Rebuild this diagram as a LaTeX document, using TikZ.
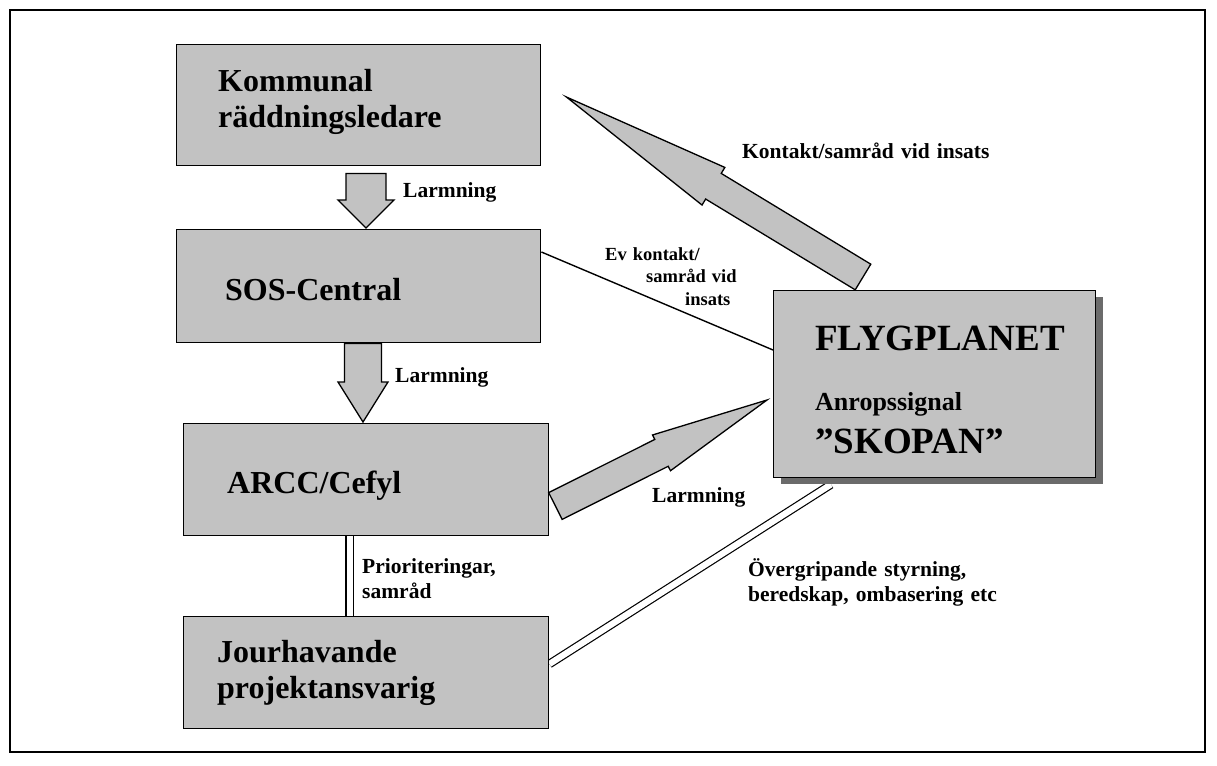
\documentclass[tikz,border=0pt]{standalone}
\usepackage{fontspec}
\setmainfont{Liberation Serif}
\usetikzlibrary{calc,backgrounds}
\definecolor{boxgray}{gray}{0.76}
\definecolor{shadowgray}{gray}{0.42}
% block arrow: #1 tail, #2 tip, #3 shaft half width, #4 head half width, #5 head length
\newcommand{\mybarrow}[5]{%
  \path ($(#2)!#5!(#1)$) coordinate (bxn);
  \draw[barrow] ($(#1)!#3!90:(#2)$) -- ($(bxn)!#3!90:(#2)$) -- ($(bxn)!#4!90:(#2)$) -- (#2)
    -- ($(bxn)!#4!-90:(#2)$) -- ($(bxn)!#3!-90:(#2)$) -- ($(#1)!#3!-90:(#2)$) -- cycle;
}
\begin{document}
\begin{tikzpicture}[x=1pt,y=-1pt,
  box/.style={draw=black, line width=1.4pt, fill=boxgray, inner sep=0pt, anchor=north west},
  shadowbox/.style={fill=shadowgray, inner sep=0pt, anchor=north west},
  bigtxt/.style={font=\bfseries\fontsize{32}{36}\selectfont, inner sep=0pt, anchor=base west, text width=360pt, align=left},
  flytxt/.style={font=\bfseries\fontsize{37}{40}\selectfont, inner sep=0pt, anchor=base west, text width=300pt, align=left},
  anrtxt/.style={font=\bfseries\fontsize{26}{30}\selectfont, inner sep=0pt, anchor=base west, text width=300pt, align=left},
  lbl/.style={font=\bfseries\fontsize{21.5}{25}\selectfont, inner sep=0pt, anchor=base west, text width=320pt, align=left},
  smalllbl/.style={font=\bfseries\fontsize{18.5}{22.5}\selectfont, inner sep=0pt, anchor=base west, text width=200pt, align=left},
  barrow/.style={draw=black, line width=1.3pt, fill=boxgray, line join=miter},
  thinline/.style={draw=black, line width=1.4pt},
  dbl/.style={draw=black, double=white, line width=1.2pt, double distance=6.2pt},
  frame/.style={draw=black, line width=2pt}
]
\useasboundingbox (0,0) rectangle (1217,765);

% boxes
\node[box, minimum width=364pt, minimum height=121pt] (kom) at (176,44) {};
\node[box, minimum width=364pt, minimum height=113pt] (sos) at (176,229) {};
\node[box, minimum width=365pt, minimum height=112pt] (arc) at (183,423) {};
\node[box, minimum width=365pt, minimum height=112pt] (jour) at (183,616) {};
\node[shadowbox, minimum width=322pt, minimum height=187pt] (flyshadow) at (781,297) {};
\node[box, minimum width=322pt, minimum height=187pt] (fly) at (773,290) {};

% box texts
\node[bigtxt] (komt) at (218,92) {Kommunal\\räddningsledare};
\node[bigtxt] (sost) at (225,300) {SOS-Central};
\node[bigtxt] (arct) at (227,493) {ARCC/Cefyl};
\node[bigtxt] (jourt) at (217,662) {Jourhavande\\projektansvarig};
\node[flytxt] (flyt) at (815,350) {FLYGPLANET};
\node[anrtxt] (anrt) at (815,410) {Anropssignal};
\node[flytxt] (skot) at (815,453) {”SKOPAN”};

% labels
\node[lbl] (l1) at (403,197) {Larmning};
\node[lbl] (l2) at (395,382) {Larmning};
\node[lbl] (l3) at (652,502) {Larmning};
\node[lbl] (lk) at (742,158) {Kontakt/samråd vid insats};
\node[smalllbl] (lev) at (605,260) {Ev kontakt/\\\hspace*{41pt}samråd vid\\\hspace*{80pt}insats};
\node[lbl] (lp) at (362,573) {Prioriteringar,\\samråd};
\node[lbl] (lo) at (748,576) {Övergripande styrning,\\beredskap, ombasering etc};

% arrow end points
\coordinate (a1t) at ($(kom.south west)+(190,7)$);
\coordinate (a1h) at ($(sos.north west)+(190,-1)$);
\coordinate (a2t) at ($(sos.south west)+(187,0)$);
\coordinate (a2h) at ($(arc.north west)+(180,-1)$);
\coordinate (a3t) at ($(arc.north east)+(6,83)$);
\coordinate (a3h) at ($(fly.north west)+(-6,110)$);
\coordinate (a4t) at ($(fly.north west)+(90,-13)$);
\coordinate (a4h) at ($(kom.north east)+(25,53)$);

\mybarrow{a1t}{a1h}{20pt}{28pt}{28pt}
\mybarrow{a2t}{a2h}{18.5pt}{25pt}{40pt}
\mybarrow{a3t}{a3h}{15pt}{20pt}{118pt}
\mybarrow{a4t}{a4h}{15pt}{22pt}{172pt}

\begin{scope}[on background layer]
  \fill[white] (0,0) rectangle (1217,765);
  \draw[frame] (10,10) rectangle (1205,752);
  \draw[thinline] ($(sos.north east)+(0,23)$) -- ($(fly.north west)+(0,60)$);
  \draw[dbl] ($(arc.south)+(-16.5,0)$) -- ($(jour.north)+(-16.5,0)$);
  \draw[dbl] ($(fly.south west)+(58,6)$) -- ($(jour.north east)+(0,48)$);
\end{scope}
\end{tikzpicture}
\end{document}
